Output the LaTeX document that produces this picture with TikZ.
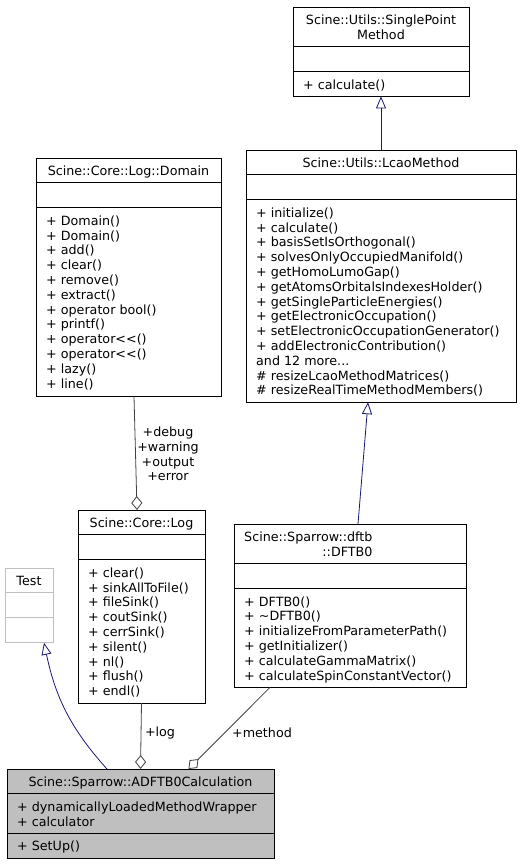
\documentclass[tikz,border=0pt]{standalone}
\usepackage{fontspec}
\setmainfont{DejaVu Sans}
\usetikzlibrary{arrows.meta,calc}
\definecolor{edgeblue}{RGB}{25,25,112}
\definecolor{edgegrey}{RGB}{64,64,64}
\definecolor{boxgrey}{RGB}{191,191,191}
\def\umlfont{\fontsize{12.7}{14.8}\selectfont}
\def\hsep[#1](#2:#3:#4){\draw[#1] (#2,#4) -- (#3,#4);}

\begin{document}
\begin{tikzpicture}[x=1pt, y=-1pt,
    boxline/.style={line width=0.8pt, black},
    classbox/.style={draw, line width=0.8pt, anchor=north west, inner sep=0pt, outer sep=0pt},
    title/.style={font=\umlfont, align=center, anchor=north, inner sep=0pt},
    members/.style={font=\umlfont, align=left, anchor=north west, inner sep=0pt},
    inherit/.style={edgeblue, line width=0.8pt, -{Triangle[open, length=12pt, width=10pt]}},
    aggr/.style={edgegrey, line width=0.8pt, {Diamond[length=14pt, width=11pt, fill=white]}-},
    role/.style={font=\umlfont, align=center, inner sep=0pt}]
			%%%%% START %%%%%
			\useasboundingbox (0,0) rectangle (521,867);
			
			% Scine::Utils::SinglePointMethod
			\node[classbox, minimum width=176pt, minimum height=89.4pt] (spm) at (293,7) {};
			\node[title] at (381,14) {\strut Scine::Utils::SinglePoint\\Method};
			\hsep[boxline](293:469:46.6)
			\hsep[boxline](293:469:71.6)
			\node[members] at (303,78.6) {\strut + calculate()};
			
			% Scine::Utils::LcaoMethod
			\node[classbox, minimum width=270pt, minimum height=252.2pt] (lcao) at (246,150) {};
			\node[title] at (381,157) {\strut Scine::Utils::LcaoMethod};
			\hsep[boxline](246:516:174.8)
			\hsep[boxline](246:516:199.8)
			\node[members] at (256,206.8) {\strut + initialize()\\+ calculate()\\+ basisSetIsOrthogonal()\\+ solvesOnlyOccupiedManifold()\\+ getHomoLumoGap()\\+ getAtomsOrbitalsIndexesHolder()\\+ getSingleParticleEnergies()\\+ getElectronicOccupation()\\+ setElectronicOccupationGenerator()\\+ addElectronicContribution()\\and 12 more...\\\# resizeLcaoMethodMatrices()\\\# resizeRealTimeMethodMembers()};
			
			% Scine::Core::Log::Domain
			\node[classbox, minimum width=185pt, minimum height=238.4pt] (domain) at (36,158) {};
			\node[title] at (128.5,165) {\strut Scine::Core::Log::Domain};
			\hsep[boxline](36:221:182.8)
			\hsep[boxline](36:221:207.8)
			\node[members] at (46,214.8) {\strut + Domain()\\+ Domain()\\+ add()\\+ clear()\\+ remove()\\+ extract()\\+ operator bool()\\+ printf()\\+ operator<{}<()\\+ operator<{}<()\\+ lazy()\\+ line()};
			
			% Scine::Core::Log
			\node[classbox, minimum width=127pt, minimum height=193pt] (log) at (78,510) {};
			\node[title] at (141.5,517) {\strut Scine::Core::Log};
			\hsep[boxline](78:205:534.8)
			\hsep[boxline](78:205:559.8)
			\node[members] at (88,566.8) {\strut + clear()\\+ sinkAllToFile()\\+ fileSink()\\+ coutSink()\\+ cerrSink()\\+ silent()\\+ nl()\\+ flush()\\+ endl()};
			
			% Test
			\node[classbox, draw=boxgrey, minimum width=48pt, minimum height=74.8pt] (test) at (5,568) {};
			\node[title] at (29,575) {\strut Test};
			\hsep[boxgrey, line width=0.8pt](5:53:592.8)
			\hsep[boxgrey, line width=0.8pt](5:53:617.8)
			
			% Scine::Sparrow::dftb::DFTB0
			\node[classbox, minimum width=232pt, minimum height=163.4pt] (dftb) at (234,524) {};
			\node[title, align=right, anchor=north west] at (244,531) {\strut Scine::Sparrow::dftb\\::DFTB0};
			\hsep[boxline](234:466:563.6)
			\hsep[boxline](234:466:588.6)
			\node[members] at (244,595.6) {\strut + DFTB0()\\+ \textasciitilde DFTB0()\\+ initializeFromParameterPath()\\+ getInitializer()\\+ calculateGammaMatrix()\\+ calculateSpinConstantVector()};
			
			% Scine::Sparrow::ADFTB0Calculation
			\node[classbox, fill=boxgrey, minimum width=267pt, minimum height=89.2pt] (adftb) at (7,769) {};
			\node[title] at (140.5,776) {\strut Scine::Sparrow::ADFTB0Calculation};
			\hsep[boxline](7:274:793.8)
			\hsep[boxline](7:274:833.4)
			\node[members] at (17,800.8) {\strut + dynamicallyLoadedMethodWrapper\\+ calculator};
			\node[members] at (17,840.4) {\strut + SetUp()};
			
			% inheritance
			\draw[inherit] (lcao.north) -- (spm.south);
			\draw[inherit] ($(dftb.north)+(8,0)$) -- ($(lcao.south)+(-13,0)$);
			\draw[inherit] ($(adftb.north)+(-33.5,0)$) to[out=132, in=-78] ($(test.south)+(15,0)$);
			
			% aggregation
			\draw[aggr] ($(log.north)+(-4.5,0)$) -- ($(domain.south)+(5.5,0)$);
			\draw[aggr] (adftb.north) -- (log.south);
			\draw[aggr] ($(adftb.north)+(48,0)$) -- ($(dftb.south)+(-80,0)$);
			
			\node[role] (lbdomain) at (168,454) {+debug\\+warning\\+output\\+error};
			\node[role] (lblog) at (160,733) {+log};
			\node[role] (lbmethod) at (262,733) {+method};
			%%%%% END %%%%%
\end{tikzpicture}
\end{document}
